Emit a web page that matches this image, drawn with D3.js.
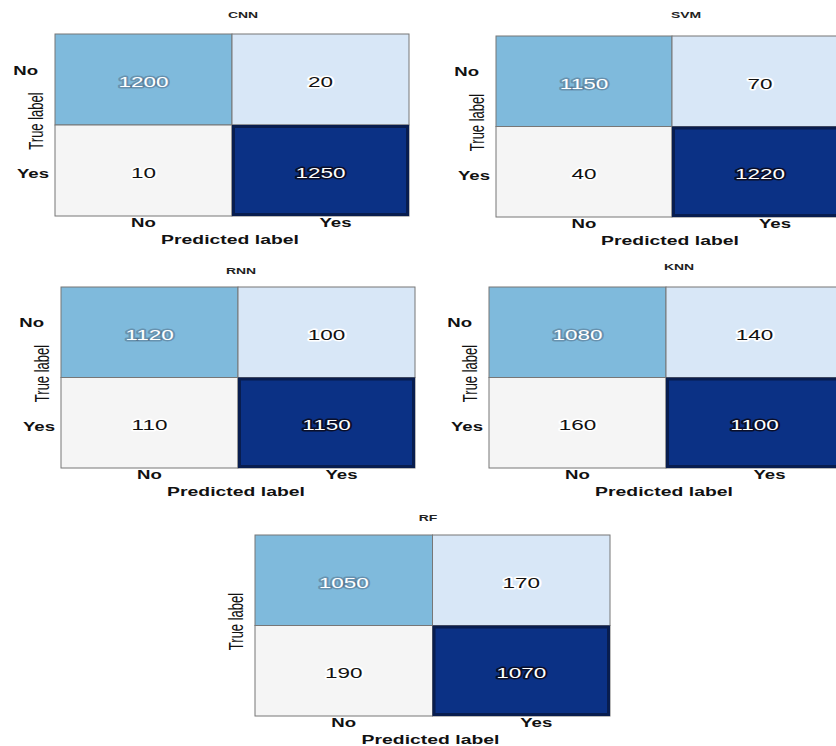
<!DOCTYPE html>
<html>
<head>
<meta charset="utf-8">
<script src="https://cdn.jsdelivr.net/npm/d3@7"></script>
<style>
  body { margin: 0; background: #fff; }
  svg { display: block; }
</style>
</head>
<body>
<div id="chart"></div>
<script>
// confusion matrix values, one entry per model
const models = ['CNN', 'SVM', 'RNN', 'KNN', 'RF'];
const classLabels = ['No', 'Yes'];
const trueNoPredNo = [1200, 1150, 1120, 1080, 1050];
const trueNoPredYes = [20, 70, 100, 140, 170];
const trueYesPredNo = [10, 40, 110, 160, 190];
const trueYesPredYes = [1250, 1220, 1150, 1100, 1070];

// where each panel sits on the page
const panels = [
  { x0: 55, x1: 409, y0: 34, y1: 216, tx: 243, ty: 15, yTicks: true },
  { x0: 496, x1: 848, y0: 36, y1: 217, tx: 686, ty: 15, yTicks: true },
  { x0: 61, x1: 415, y0: 287, y1: 468, tx: 241, ty: 271, yTicks: true },
  { x0: 489, x1: 843, y0: 287, y1: 468, tx: 679, ty: 267, yTicks: true },
  { x0: 255, x1: 610, y0: 535, y1: 716, tx: 428, ty: 518, yTicks: false },
];

const width = 836;
const height = 746;
const sx = 1.55; // text in the original is stretched sideways

const fill = d3
  .scaleOrdinal()
  .domain(['No|No', 'No|Yes', 'Yes|No', 'Yes|Yes'])
  .range(['#7fbadc', '#d8e7f7', '#f5f5f5', '#0b3185']);

const svg = d3
  .select('#chart')
  .append('svg')
  .attr('width', width)
  .attr('height', height)
  .style('font-family', 'Liberation Sans, Arial, sans-serif');

function stretched(sel, x, y, k = sx) {
  return sel.attr('transform', `translate(${x},${y}) scale(${k},1)`);
}

models.forEach((name, i) => {
  const p = panels[i];
  const cells = [
    { t: 'No', pr: 'No', v: trueNoPredNo[i] },
    { t: 'No', pr: 'Yes', v: trueNoPredYes[i] },
    { t: 'Yes', pr: 'No', v: trueYesPredNo[i] },
    { t: 'Yes', pr: 'Yes', v: trueYesPredYes[i] },
  ];

  const x = d3.scaleBand().domain(classLabels).range([p.x0, p.x1]);
  const y = d3.scaleBand().domain(classLabels).range([p.y0, p.y1]);
  const g = svg.append('g');

  g.selectAll('rect.cell')
    .data(cells)
    .join('rect')
    .attr('class', 'cell')
    .attr('x', (d) => x(d.pr))
    .attr('y', (d) => y(d.t))
    .attr('width', x.bandwidth())
    .attr('height', y.bandwidth())
    .attr('fill', (d) => fill(`${d.t}|${d.pr}`))
    .attr('stroke', '#777')
    .attr('stroke-width', 1);

  // darker inner edge on the true positive cell
  const tp = cells[3];
  g.append('rect')
    .attr('x', x(tp.pr) + 1.5)
    .attr('y', y(tp.t) + 1.5)
    .attr('width', x.bandwidth() - 3)
    .attr('height', y.bandwidth() - 3)
    .attr('fill', 'none')
    .attr('stroke', '#081d4f')
    .attr('stroke-width', 3);

  g.selectAll('text.val')
    .data(cells)
    .join('text')
    .attr('class', 'val')
    .each(function (d) {
      stretched(d3.select(this), x(d.pr) + x.bandwidth() / 2, y(d.t) + y.bandwidth() / 2 + 2, 1.5);
    })
    .attr('text-anchor', 'middle')
    .attr('dy', '0.35em')
    .attr('font-size', 15)
    .attr('paint-order', 'stroke')
    .attr('stroke-linejoin', 'round')
    .attr('fill', (d) => (d.t === d.pr ? '#fff' : '#111'))
    .attr('stroke', (d) => {
      if (d.t === 'Yes' && d.pr === 'Yes') return '#0a0f2a';
      if (d.t === 'No' && d.pr === 'No') return 'rgba(60,70,90,0.35)';
      return '#fff';
    })
    .attr('stroke-width', 3)
    .text((d) => d.v);

  // title
  stretched(g.append('text'), p.tx, p.ty)
    .attr('text-anchor', 'middle')
    .attr('dy', '0.35em')
    .attr('font-size', 9)
    .attr('font-weight', 'bold')
    .attr('fill', '#222')
    .text(name);

  // x ticks
  const xShift = { No: 0, Yes: 15 };
  classLabels.forEach((c) => {
    stretched(g.append('text'), x(c) + x.bandwidth() / 2 + xShift[c], p.y1 + 11)
      .attr('text-anchor', 'middle')
      .attr('font-size', 12)
      .attr('font-weight', 'bold')
      .attr('fill', '#111')
      .text(c);
  });

  stretched(g.append('text'), (p.x0 + p.x1) / 2 - 2, p.y1 + 28)
    .attr('text-anchor', 'middle')
    .attr('font-size', 12.5)
    .attr('font-weight', 'bold')
    .attr('fill', '#111')
    .text('Predicted label');

  // y ticks
  if (p.yTicks) {
    const yOff = { No: 17, Yes: 6 };
    const yPos = { No: 0.2, Yes: 0.77 };
    classLabels.forEach((c) => {
      stretched(g.append('text'), p.x0 - yOff[c], p.y0 + (p.y1 - p.y0) * yPos[c])
        .attr('text-anchor', 'end')
        .attr('dy', '0.35em')
        .attr('font-size', 12)
        .attr('font-weight', 'bold')
        .attr('fill', '#111')
        .text(c);
    });
  }

  g.append('text')
    .attr('transform', `translate(${p.x0 - 19},${(p.y0 + p.y1) / 2 - 4}) scale(1.5,1) rotate(-90)`)
    .attr('text-anchor', 'middle')
    .attr('dy', '0.35em')
    .attr('font-size', 13)
    .attr('fill', '#111')
    .text('True label');
});
</script>
</body>
</html>
